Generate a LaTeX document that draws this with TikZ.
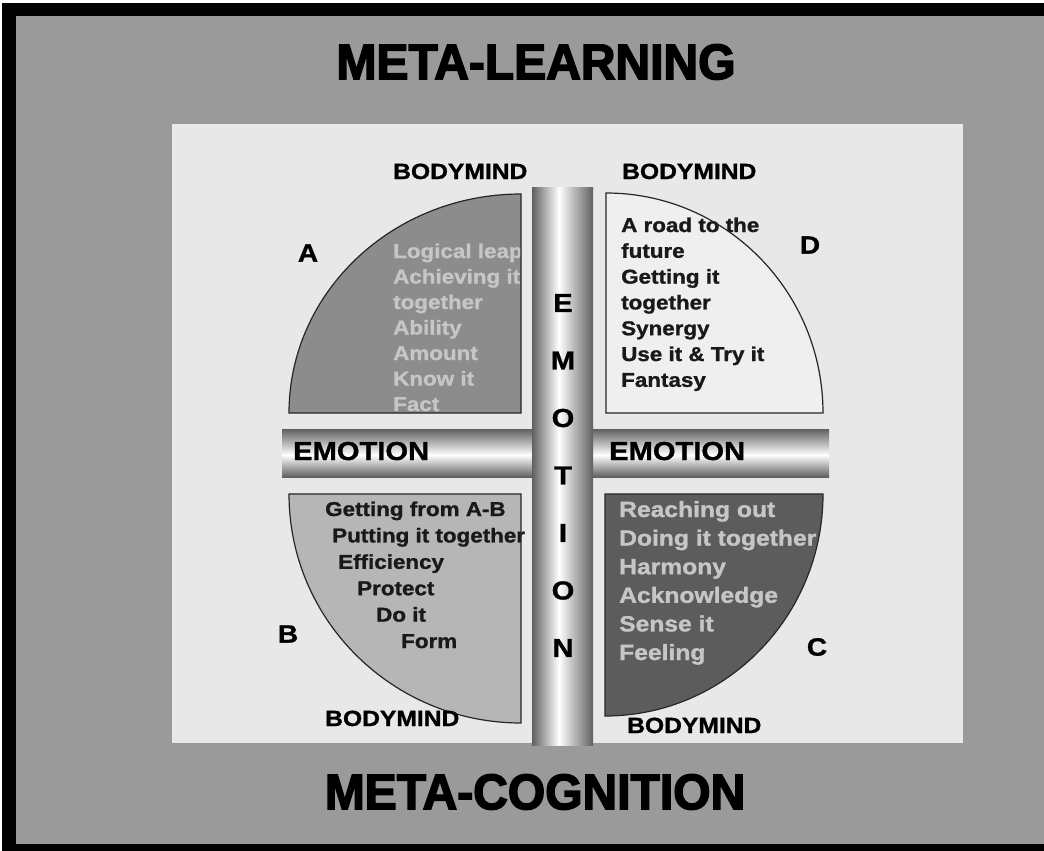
\documentclass[tikz,border=0pt]{standalone}
\usepackage{fontspec}
\setmainfont{Liberation Sans}
\newfontfamily\bodyfont[FakeStretch=1.12, FakeBold=1.2]{Liberation Sans}
\newfontfamily\titlefont[FakeBold=3, FakeStretch=0.96]{Liberation Sans}
\definecolor{framegray}{HTML}{9A9A9A}
\definecolor{panelgray}{HTML}{E8E8E8}
\definecolor{barshade}{HTML}{606060}
\definecolor{quadA}{HTML}{8C8C8C}
\definecolor{quadB}{HTML}{B6B6B6}
\definecolor{quadC}{HTML}{5C5C5C}
\definecolor{quadD}{HTML}{EFEFEF}
\definecolor{paletext}{HTML}{C6C6C6}
\pgfdeclarehorizontalshading{vbarshade}{100bp}{color(0bp)=(barshade); color(25bp)=(barshade); color(47bp)=(white); color(75bp)=(barshade); color(100bp)=(barshade)}
\pgfdeclareverticalshading{hbarshade}{100bp}{color(0bp)=(barshade); color(25bp)=(barshade); color(48bp)=(white); color(75bp)=(barshade); color(100bp)=(barshade)}
\begin{document}
\begin{tikzpicture}[x=1pt, y=-1pt,
    body/.style={font=\bodyfont\bfseries\fontsize{20}{24}\selectfont, inner sep=0pt, anchor=base west},
    bigbody/.style={body, font=\bodyfont\bfseries\fontsize{22}{26}\selectfont},
    mind/.style={body, font=\bodyfont\bfseries\fontsize{22}{26}\selectfont},
    corner/.style={font=\bodyfont\bfseries\fontsize{25}{30}\selectfont, inner sep=0pt},
    emo/.style={font=\bodyfont\bfseries\fontsize{26}{30}\selectfont, inner sep=0pt},
    headline/.style={font=\titlefont\bfseries\fontsize{50}{56}\selectfont, inner sep=0pt},
    rim/.style={draw=black!85, line width=1.2pt}]
  \useasboundingbox (0,0) rectangle (1044,851);
  % frame and panel
  \fill[black] (2,3) rectangle (1060,860);
  \fill[framegray] (16,16) rectangle (1060,844);
  \fill[panelgray] (172,124) rectangle (963,743);
  \node[headline] (metalearning) at (536,62) {META-LEARNING};
  \node[headline] (metacognition) at (535,792) {META-COGNITION};
  % quadrants
  \fill[quadA] (521,413) -- (289,413) arc[start angle=180, end angle=270, x radius=232, y radius=219] -- cycle;
  \fill[quadB] (521,494) -- (521,723) arc[start angle=90, end angle=180, x radius=232, y radius=229] -- cycle;
  \fill[quadC] (605,494) -- (823,494) arc[start angle=0, end angle=90, x radius=218, y radius=222] -- cycle;
  \fill[quadD] (606,413) -- (823,413) arc[start angle=0, end angle=-90, x radius=217, y radius=220] -- cycle;
  \foreach \txt [count=\i from 0] in {Logical leap, Achieving it, together, Ability, Amount, Know it, Fact}
    \node[body, text=paletext] (textA\i) at (393, 258+25.5*\i) {\txt};
  \foreach \txt [count=\i from 0] in {A road to the, future, Getting it, together, Synergy, Use it \& Try it, Fantasy}
    \node[body, text=black!90] (textD\i) at (621, 232+25.8*\i) {\txt};
  \foreach \x/\txt [count=\i from 0] in {325/Getting from A-B, 332/Putting it together, 338/Efficiency, 357/Protect, 376/Do it, 401/Form}
    \node[body, text=black!90] (textB\i) at (\x, 516+26.4*\i) {\txt};
  \foreach \txt [count=\i from 0] in {Reaching out, Doing it together, Harmony, Acknowledge, Sense it, Feeling}
    \node[bigbody, text=paletext] (textC\i) at (619, 517+28.6*\i) {\txt};
  \draw[rim] (521,413) -- (289,413) arc[start angle=180, end angle=270, x radius=232, y radius=219] -- cycle;
  \draw[rim] (521,494) -- (521,723) arc[start angle=90, end angle=180, x radius=232, y radius=229] -- cycle;
  \draw[rim] (605,494) -- (823,494) arc[start angle=0, end angle=90, x radius=218, y radius=222] -- cycle;
  \draw[rim] (606,413) -- (823,413) arc[start angle=0, end angle=-90, x radius=217, y radius=220] -- cycle;
  % labels
  \node[corner] (labA) at (308,253) {A};
  \node[corner] (labD) at (810,245) {D};
  \node[corner] (labB) at (288,634) {B};
  \node[corner] (labC) at (817,647) {C};
  \node[mind] (mindA) at (393,179) {BODYMIND};
  \node[mind] (mindD) at (622,179) {BODYMIND};
  \node[mind] (mindB) at (325,726) {BODYMIND};
  \node[mind] (mindC) at (627,733) {BODYMIND};
  % emotion bars
  \shade[shading=hbarshade] (282,429) rectangle (532,477);
  \shade[shading=hbarshade] (593,429) rectangle (829,477);
  \shade[shading=vbarshade] (532,187) rectangle (593,745);
  \node[emo, anchor=base west] (emoL) at (293,460) {EMOTION};
  \node[emo, anchor=base west] (emoR) at (609,460) {EMOTION};
  \foreach \ch [count=\i from 0] in {E,M,O,T,I,O,N}
    \node[emo] (emoV\i) at (563, 303+57.5*\i) {\ch};
\end{tikzpicture}
\end{document}
